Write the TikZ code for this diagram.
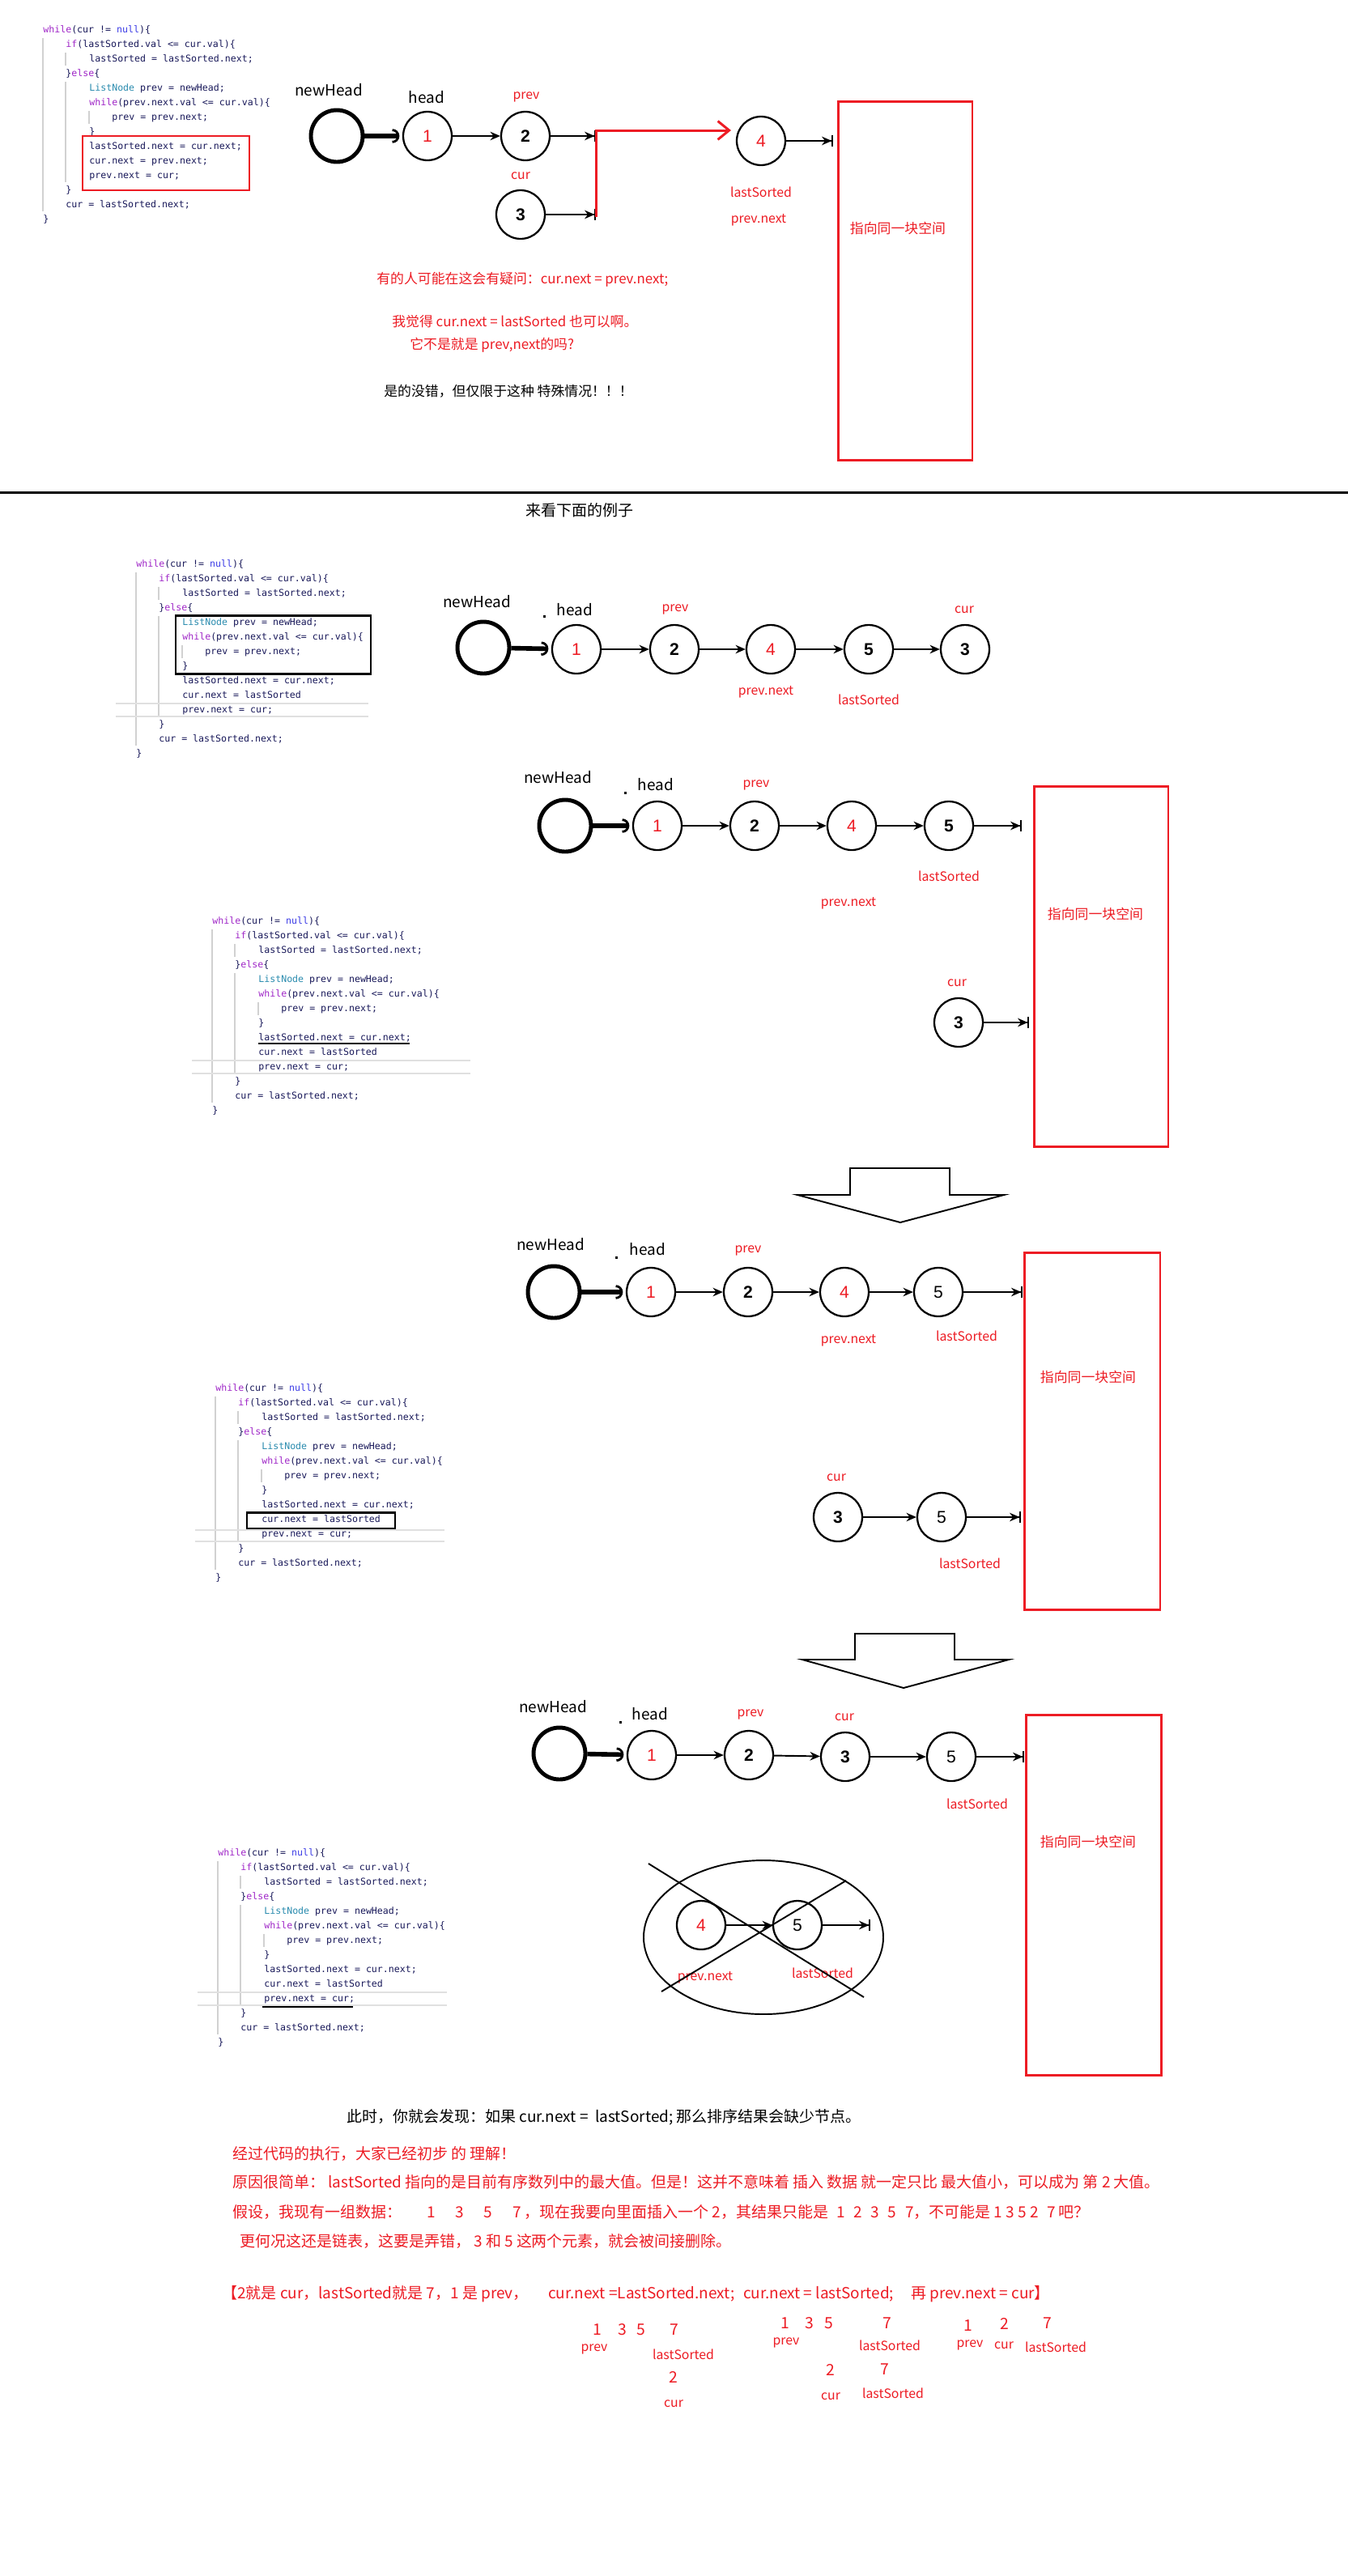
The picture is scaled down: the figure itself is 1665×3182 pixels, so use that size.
\documentclass[tikz,border=0pt]{standalone}
\usepackage{fontspec}
\setmainfont{Noto Sans CJK SC}
\newfontfamily\codefont{DejaVu Sans Mono}
\newfontfamily\digfont{Liberation Sans}
\usetikzlibrary{arrows.meta}
\definecolor{redc}{RGB}{237,28,36}
\definecolor{kwc}{RGB}{160,40,200}
\definecolor{nullc}{RGB}{60,60,230}
\definecolor{typec}{RGB}{43,140,175}
\definecolor{varc}{RGB}{25,25,90}
\newcommand{\ckw}[1]{\textcolor{kwc}{#1}}
\newcommand{\cnull}[1]{\textcolor{nullc}{#1}}
\newcommand{\ctype}[1]{\textcolor{typec}{#1}}
\tikzset{
  codeline/.style={anchor=west, inner sep=0, text=varc, text height=6pt, text depth=1.6pt,
    font=\codefont\fontsize{6.6}{8}\selectfont},
  guide/.style={black!18, line width=0.6pt},
  shot/.style={black!12, line width=1.2pt},
}
% one screenshot of the loop, #1 prefix, (#2,#3) first line, #4 tenth line
\newcommand{\codeblock}[4]{%
  \begin{scope}[shift={(#2,#3)}]
    \draw[guide] (0,10) -- (0,224);
    \draw[guide] (28,28) -- (28,44);
    \draw[guide] (28,64) -- (28,188);
    \draw[guide] (57,100) -- (57,116);
    \node[codeline] (#1l1) at (0,0) {\ckw{while}(cur != \cnull{null})\{};
    \node[codeline] (#1l2) at (28,18) {\ckw{if}(lastSorted.val <= cur.val)\{};
    \node[codeline] (#1l3) at (57,36) {lastSorted = lastSorted.next;};
    \node[codeline] (#1l4) at (28,54) {\}\ckw{else}\{};
    \node[codeline] (#1l5) at (57,72) {\ctype{ListNode} prev = newHead;};
    \node[codeline] (#1l6) at (57,90) {\ckw{while}(prev.next.val <= cur.val)\{};
    \node[codeline] (#1l7) at (85,108) {prev = prev.next;};
    \node[codeline] (#1l8) at (57,126) {\}};
    \node[codeline] (#1l9) at (57,144) {lastSorted.next = cur.next;};
    \node[codeline] (#1l10) at (57,162) {#4};
    \node[codeline] (#1l11) at (57,180) {prev.next = cur;};
    \node[codeline] (#1l12) at (28,198) {\}};
    \node[codeline] (#1l13) at (28,216) {cur = lastSorted.next;};
    \node[codeline] (#1l14) at (0,234) {\}};
  \end{scope}}

\begin{document}
\begin{tikzpicture}[x=0.02cm, y=-0.02cm,
    lnode/.style={circle, draw, line width=1.3pt, minimum size=1.2cm, inner sep=0},
    rnum/.style={lnode, text=redc, font=\digfont\fontsize{12}{12}\selectfont},
    bnum/.style={lnode, font=\digfont\bfseries\fontsize{12}{12}\selectfont},
    knum/.style={lnode, font=\digfont\fontsize{12}{12}\selectfont},
    hnode/.style={circle, draw, line width=2.8pt, minimum size=1.28cm, inner sep=0},
    link/.style={line width=1.1pt, -{Stealth[length=7pt,width=6pt]}},
    linkbar/.style={line width=1.1pt, -{Stealth[length=7pt,width=6pt]Bar[width=8pt,line width=0.9pt]}},
    headlink/.style={line width=3.2pt, -{Arc Barb[arc=180,length=5pt,line width=1.6pt]}, shorten >=2pt},
    nm/.style={font=\fontsize{10.8}{12}\selectfont, inner sep=0},
    rl/.style={text=redc, font=\fontsize{9}{10}\selectfont, inner sep=0},
    dotm/.style={fill, minimum size=0.06cm, inner sep=0},
    redrect/.style={draw=redc, line width=1.7pt, inner sep=0},
    qt/.style={anchor=west, inner sep=0, text=redc, font=\fontsize{9.6}{11}\selectfont},
    lt/.style={anchor=west, inner sep=0, font=\fontsize{10.8}{12}\selectfont},
    sn/.style={text=redc, font=\fontsize{11}{12}\selectfont, inner sep=0},
  ]
  \fill[white] (0,0) rectangle (1665,3182);
  \useasboundingbox (0,0) rectangle (1665,3182);

  %% first case
  \codeblock{ca}{53}{37}{cur.next = prev.next;}
  \draw[redc, line width=1.4pt] (102,168) rectangle (308,235);

  \node[nm] (nh1) at (406,111) {newHead};
  \node[hnode] (hc1) at (416,168) {};
  \node[nm] (hd1) at (527,120) {head};
  \node[rnum] (n1) at (528,168) {1};
  \node[bnum] (n2) at (649,168) {2};
  \node[bnum] (n3) at (643,265) {3};
  \node[rnum] (n4) at (940,174) {4};
  \node[rl] (pv1) at (650,120) {prev};
  \node[rl] (cu1) at (643,217) {cur};
  \node[rl] (ls1) at (940,237) {lastSorted};
  \node[rl] (pn1) at (937,272) {prev.next};
  \node[redrect, minimum width=3.32cm, minimum height=8.88cm] (box1) at (1118,347) {};
  \node[text=redc, font=\fontsize{9.6}{11}\selectfont] (sp1) at (1109,282) {指向同一块空间};
  \coordinate (p2e) at (736,168);
  \coordinate (p3e) at (736,265);
  \coordinate (rc1) at (736,268);
  \coordinate (rc3) at (903,161);
  \coordinate (p4e) at (1029,174);
  \draw[headlink] (hc1) -- (n1);
  \draw[link] (n1) -- (n2);
  \draw[linkbar] (n2) -- (p2e);
  \draw[linkbar] (n3) -- (p3e);
  \draw[linkbar] (n4) -- (p4e);
  \draw[redc, line width=1.7pt, -{Straight Barb[length=8pt,width=13pt]}] (rc1) |- (rc3);

  \node[qt] (q1) at (465,345) {有的人可能在这会有疑问：cur.next = prev.next;};
  \node[qt] (q2) at (484,397) {我觉得 cur.next = lastSorted 也可以啊。};
  \node[qt] (q3) at (506,426) {它不是就是 prev,next的吗?};
  \node[qt, text=black] (q4) at (474,483) {是的没错，但仅限于这种 特殊情况！！！};

  \draw[line width=1.7pt] (0,608) -- (1665,608);
  \node[nm] (see) at (716,630) {来看下面的例子};

  %% second case
  \codeblock{cb}{168}{697}{cur.next = lastSorted}
  \draw[line width=1.7pt] (217,760) rectangle (458,832);
  \draw[shot] (143,869) -- (455,869);
  \draw[shot] (143,885) -- (455,885);

  \node[nm] (nh2) at (589,743) {newHead};
  \node[hnode] (hc2) at (597,800) {};
  \node[dotm] (dt2) at (672,761) {};
  \node[nm] (hd2) at (710,753) {head};
  \node[rnum] (a1) at (712,802) {1};
  \node[bnum] (a2) at (833,802) {2};
  \node[rnum] (a4) at (952,802) {4};
  \node[bnum] (a5) at (1073,802) {5};
  \node[bnum] (a3) at (1192,802) {3};
  \node[rl] (pv2) at (834,753) {prev};
  \node[rl] (cu2) at (1191,753) {cur};
  \node[rl] (pn2) at (946,855) {prev.next};
  \node[rl] (ls2) at (1073,864) {lastSorted};
  \draw[headlink] (hc2) -- (a1);
  \draw[link] (a1) -- (a2);
  \draw[link] (a2) -- (a4);
  \draw[link] (a4) -- (a5);
  \draw[link] (a5) -- (a3);

  % after lastSorted.next = cur.next
  \node[nm] (nh3) at (689,960) {newHead};
  \node[hnode] (hc3) at (698,1020) {};
  \node[dotm] (dt3) at (772,979) {};
  \node[nm] (hd3) at (810,969) {head};
  \node[rnum] (b1) at (812,1020) {1};
  \node[bnum] (b2) at (932,1020) {2};
  \node[rnum] (b4) at (1052,1020) {4};
  \node[bnum] (b5) at (1172,1020) {5};
  \node[bnum] (b3) at (1184,1263) {3};
  \node[rl] (pv3) at (934,970) {prev};
  \node[rl] (ls3) at (1172,1082) {lastSorted};
  \node[rl] (pn3) at (1048,1116) {prev.next};
  \node[rl] (cu3) at (1182,1214) {cur};
  \node[redrect, minimum width=3.32cm, minimum height=8.9cm] (box2) at (1360,1194) {};
  \node[text=redc, font=\fontsize{9.6}{11}\selectfont] (sp2) at (1353,1129) {指向同一块空间};
  \coordinate (b5e) at (1262,1020);
  \coordinate (b3e) at (1271,1263);
  \draw[headlink] (hc3) -- (b1);
  \draw[link] (b1) -- (b2);
  \draw[link] (b2) -- (b4);
  \draw[link] (b4) -- (b5);
  \draw[linkbar] (b5) -- (b5e);
  \draw[linkbar] (b3) -- (b3e);

  \codeblock{cc}{262}{1138}{cur.next = lastSorted}
  \draw[line width=1.4pt] (319,1289) -- (506,1289);
  \draw[shot] (237,1310) -- (581,1310);
  \draw[shot] (237,1326) -- (581,1326);

  \draw[line width=1.1pt] (1050,1443) -- (1173,1443) -- (1173,1476) -- (1240,1476)
    -- (1112,1510) -- (985,1476) -- (1050,1476) -- cycle;

  % after cur.next = lastSorted
  \node[nm] (nh4) at (680,1537) {newHead};
  \node[hnode] (hc4) at (684,1596) {};
  \node[dotm] (dt4) at (761,1553) {};
  \node[nm] (hd4) at (800,1543) {head};
  \node[rnum] (c1) at (804,1596) {1};
  \node[bnum] (c2) at (924,1596) {2};
  \node[rnum] (c4) at (1043,1596) {4};
  \node[knum] (c5) at (1159,1596) {5};
  \node[rl] (pv4) at (924,1545) {prev};
  \node[rl] (pn4) at (1048,1656) {prev.next};
  \node[rl] (ls4) at (1194,1650) {lastSorted};
  \node[redrect, minimum width=3.36cm, minimum height=8.84cm] (box3) at (1349,1768) {};
  \node[text=redc, font=\fontsize{9.6}{11}\selectfont] (sp3) at (1344,1701) {指向同一块空间};
  \node[rl] (cu4) at (1033,1825) {cur};
  \node[bnum] (c3) at (1035,1874) {3};
  \node[knum] (c5b) at (1163,1874) {5};
  \node[rl] (ls4b) at (1198,1931) {lastSorted};
  \coordinate (c5e) at (1263,1596);
  \coordinate (c5be) at (1261,1874);
  \draw[headlink] (hc4) -- (c1);
  \draw[link] (c1) -- (c2);
  \draw[link] (c2) -- (c4);
  \draw[link] (c4) -- (c5);
  \draw[linkbar] (c5) -- (c5e);
  \draw[link] (c3) -- (c5b);
  \draw[linkbar] (c5b) -- (c5be);

  \codeblock{cd}{266}{1715}{cur.next = lastSorted}
  \draw[line width=1.7pt] (305,1868) rectangle (488,1888);
  \draw[shot] (241,1890) -- (549,1890);
  \draw[shot] (241,1904) -- (549,1904);

  \draw[line width=1.1pt] (1056,2018) -- (1179,2018) -- (1179,2050) -- (1246,2050)
    -- (1116,2085) -- (991,2050) -- (1056,2050) -- cycle;

  % after prev.next = cur
  \node[nm] (nh5) at (683,2108) {newHead};
  \node[hnode] (hc5) at (691,2166) {};
  \node[dotm] (dt5) at (766,2127) {};
  \node[nm] (hd5) at (803,2117) {head};
  \node[rnum] (d1) at (805,2168) {1};
  \node[bnum] (d2) at (925,2168) {2};
  \node[bnum] (d3) at (1044,2170) {3};
  \node[knum] (d5) at (1175,2170) {5};
  \node[rl] (pv5) at (927,2118) {prev};
  \node[rl] (cu5) at (1043,2121) {cur};
  \node[rl] (ls5) at (1207,2228) {lastSorted};
  \node[redrect, minimum width=3.34cm, minimum height=8.92cm] (box4) at (1351,2341) {};
  \node[text=redc, font=\fontsize{9.6}{11}\selectfont] (sp4) at (1344,2275) {指向同一块空间};
  \coordinate (d5e) at (1265,2170);
  \draw[headlink] (hc5) -- (d1);
  \draw[link] (d1) -- (d2);
  \draw[link] (d2) -- (d3);
  \draw[link] (d3) -- (d5);
  \draw[linkbar] (d5) -- (d5e);

  % the lost part
  \draw[line width=1.1pt] (943,2393) ellipse [x radius=148, y radius=95];
  \node[rnum] (e4) at (866,2378) {4};
  \node[knum] (e5) at (985,2378) {5};
  \node[rl] (pn5) at (871,2443) {prev.next};
  \node[rl] (ls5b) at (1016,2437) {lastSorted};
  \coordinate (e5e) at (1075,2378);
  \draw[link] (e4) -- (e5);
  \draw[linkbar] (e5) -- (e5e);
  \draw[line width=1.1pt] (801,2302) -- (1067,2467);
  \draw[line width=1.1pt] (1045,2323) -- (817,2460);

  \codeblock{ce}{269}{2289}{cur.next = lastSorted}
  \draw[line width=1.4pt] (324,2479) -- (436,2479);
  \draw[shot] (244,2461) -- (552,2461);
  \draw[shot] (244,2477) -- (552,2477);

  %% explanation
  \node[lt] (t1) at (428,2615) {此时，你就会发现：如果 cur.next =\ \ lastSorted; 那么排序结果会缺少节点。};
  \node[lt, text=redc] (t2) at (287,2660) {经过代码的执行，大家已经初步 的 理解！};
  \node[lt, text=redc] (t3) at (287,2695) {原因很简单： lastSorted 指向的是目前有序数列中的最大值。但是！这并不意味着 插入 数据 就一定只比 最大值小，可以成为 第 2 大值。};
  \node[lt, text=redc] (t4) at (287,2732) {假设，我现有一组数据：\hspace{18pt}1\hspace{14pt}3\hspace{14pt}5\hspace{14pt}7 ，现在我要向里面插入一个 2，其结果只能是\hspace{6pt}1\hspace{6pt}2\hspace{6pt}3\hspace{6pt}5\hspace{6pt}7，不可能是 1 3 5 2\hspace{6pt}7 吧？};
  \node[lt, text=redc] (t5) at (296,2768) {更何况这还是链表，这要是弄错， 3 和 5 这两个元素，就会被间接删除。};
  \node[lt, text=redc] (t6) at (274,2834) {【2就是 cur，lastSorted就是 7，1 是 prev，\hspace{14pt}cur.next =LastSorted.next;\hspace{6pt}cur.next = lastSorted;\hspace{12pt}再 prev.next = cur】};

  % three small states
  \node[sn] (f1) at (738,2878) {1};
  \node[sn] (f3) at (769,2878) {3};
  \node[sn] (f5) at (792,2878) {5};
  \node[sn] (f7) at (833,2878) {7};
  \node[rl] (fp) at (734,2902) {prev};
  \node[rl] (fl) at (844,2908) {lastSorted};
  \node[sn] (f2) at (832,2936) {2};
  \node[rl] (fc) at (832,2969) {cur};

  \node[sn] (g1) at (970,2870) {1};
  \node[sn] (g3) at (1000,2870) {3};
  \node[sn] (g5) at (1024,2870) {5};
  \node[sn] (g7) at (1096,2870) {7};
  \node[rl] (gp) at (971,2894) {prev};
  \node[rl] (gl) at (1099,2897) {lastSorted};
  \node[sn] (g2) at (1026,2927) {2};
  \node[sn] (g7b) at (1093,2927) {7};
  \node[rl] (gc) at (1026,2960) {cur};
  \node[rl] (gl2) at (1103,2956) {lastSorted};

  \node[sn] (h1) at (1196,2873) {1};
  \node[sn] (h2) at (1241,2870) {2};
  \node[sn] (h7) at (1294,2870) {7};
  \node[rl] (hp) at (1198,2897) {prev};
  \node[rl] (hc) at (1240,2897) {cur};
  \node[rl] (hl) at (1304,2899) {lastSorted};
\end{tikzpicture}
\end{document}
